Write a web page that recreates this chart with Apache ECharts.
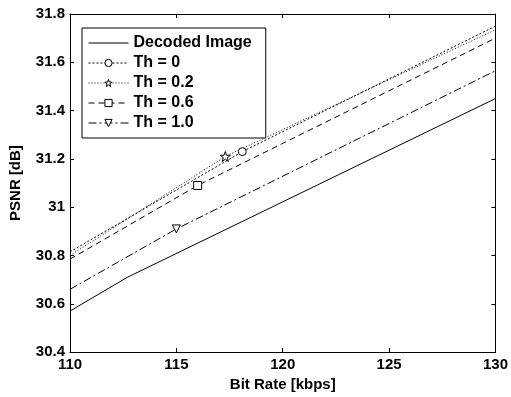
<!DOCTYPE html>
<html><head><meta charset="utf-8">
<script src="https://cdn.jsdelivr.net/npm/echarts@6/dist/echarts.min.js"></script>
<style>html,body{margin:0;padding:0;background:#fff}#c{width:511px;height:397px}</style>
</head><body><div id="c"></div>
<script>
// ---- data ----
const seriesNames = ['Decoded Image', 'Th = 0', 'Th = 0.2', 'Th = 0.6', 'Th = 1.0'];
const decodedX = [110, 112.7, 130];
const decodedY = [30.57, 30.71, 31.45];
const th0X = [110, 118.1, 130];
const th0Y = [30.815, 31.23, 31.75];
const th02X = [110, 117.3, 130];
const th02Y = [30.80, 31.21, 31.735];
const th06X = [110, 116, 130];
const th06Y = [30.785, 31.09, 31.70];
const th10X = [110, 115, 130];
const th10Y = [30.66, 30.91, 31.565];
const markerIndex = [-1, 1, 1, 1, 1];
const xTicks = {min: 110, max: 130, interval: 5};
const yTicks = {min: 30.4, max: 31.8, interval: 0.2};

const STAR = 'path://M0,-10 L2.35,-3.24 9.51,-3.09 3.8,1.24 5.88,8.09 0,4 -5.88,8.09 -3.8,1.24 -9.51,-3.09 -2.35,-3.24Z';
const styles = [
  {type: 'solid', symbol: 'none', size: 0, rotate: 0},
  {type: [2, 2], symbol: 'circle', size: 8, rotate: 0},
  {type: [1, 2], symbol: STAR, size: 10, rotate: 0},
  {type: [6, 4], symbol: 'rect', size: 8, rotate: 0},
  {type: [8, 3, 2, 3], symbol: 'triangle', size: 8, rotate: 180}
];
const xs = [decodedX, th0X, th02X, th06X, th10X];
const ys = [decodedY, th0Y, th02Y, th06Y, th10Y];

const series = seriesNames.map((name, i) => {
  const st = styles[i];
  return {
    name, type: 'line', symbol: st.symbol, symbolSize: st.size, symbolRotate: st.rotate,
    showSymbol: true, animation: false,
    lineStyle: {color: '#000', width: 1, type: st.type},
    itemStyle: {color: '#fff', borderColor: '#000', borderWidth: 1},
    data: xs[i].map((x, k) => k === markerIndex[i]
      ? {value: [x, ys[i][k]]}
      : {value: [x, ys[i][k]], symbol: 'none'})
  };
});

const legendData = seriesNames.map((name, i) => i === 0
  ? {name, itemStyle: {color: 'rgba(0,0,0,0)', borderColor: 'rgba(0,0,0,0)', borderWidth: 0}}
  : {name});

const font = {fontFamily: 'Liberation Sans', fontWeight: 'bold', fontSize: 15, color: '#000'};
const axLine = {show: true, lineStyle: {color: '#000', width: 1}};
const chart = echarts.init(document.getElementById('c'), null, {renderer: 'canvas'});
chart.setOption({
  backgroundColor: '#fff',
  animation: false,
  grid: {left: 68, right: 14, top: 14, bottom: 42},
  legend: {
    orient: 'vertical', left: 82, top: 28,
    backgroundColor: '#fff', borderColor: '#000', borderWidth: 1,
    padding: [6, 14, 6, 6], itemGap: 2, itemWidth: 40, itemHeight: 9,
    symbolRotate: 'inherit',
    lineStyle: {width: 1},
    itemStyle: {borderWidth: 1},
    textStyle: {fontFamily: 'Liberation Sans', fontWeight: 'bold', fontSize: 16, color: '#000', lineHeight: 18},
    data: legendData
  },
  xAxis: [{
    type: 'value', min: xTicks.min, max: xTicks.max, interval: xTicks.interval,
    name: 'Bit Rate [kbps]', nameLocation: 'middle', nameGap: 22,
    nameTextStyle: font,
    axisLine: axLine, axisTick: {inside: true, length: 4, lineStyle: {color: '#000'}},
    axisLabel: Object.assign({margin: 5}, font), splitLine: {show: false}
  }, {
    type: 'value', position: 'top', min: xTicks.min, max: xTicks.max, interval: xTicks.interval,
    axisLine: axLine, axisTick: {inside: true, length: 4, lineStyle: {color: '#000'}},
    axisLabel: {show: false}, splitLine: {show: false}
  }],
  yAxis: [{
    type: 'value', min: yTicks.min, max: yTicks.max, interval: yTicks.interval,
    name: 'PSNR [dB]', nameLocation: 'middle', nameGap: 47,
    nameTextStyle: font,
    axisLine: axLine, axisTick: {inside: true, length: 4, lineStyle: {color: '#000'}},
    axisLabel: Object.assign({margin: 5, formatter: v => String(+v.toFixed(1))}, font),
    splitLine: {show: false}
  }, {
    type: 'value', position: 'right', min: yTicks.min, max: yTicks.max, interval: yTicks.interval,
    axisLine: axLine, axisTick: {inside: true, length: 4, lineStyle: {color: '#000'}},
    axisLabel: {show: false}, splitLine: {show: false}
  }],
  series
});
</script></body></html>
